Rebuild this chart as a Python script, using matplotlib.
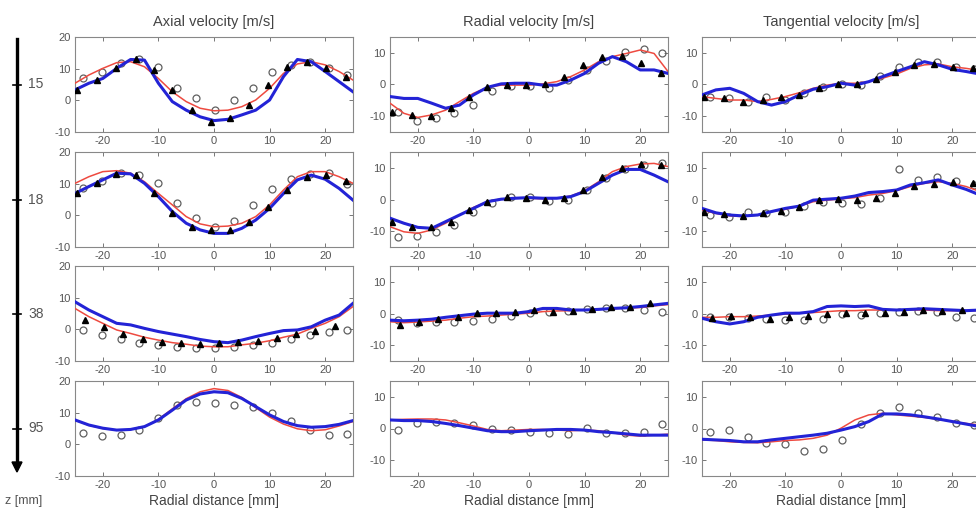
import numpy as np
import matplotlib
matplotlib.use("Agg")
import matplotlib.pyplot as plt
from matplotlib.lines import Line2D

plt.rcParams['font.family'] = ['Liberation Sans', 'DejaVu Sans']
plt.rcParams['axes.unicode_minus'] = False

# radial positions (mm)
x_line = [-25, -22.5, -20, -17.5, -15, -12.5, -10, -7.5, -5, -2.5, 0,
          2.5, 5, 7.5, 10, 12.5, 15, 17.5, 20, 22.5, 25]
circ_x = [-23.6, -20.2, -16.8, -13.4, -10.0, -6.6, -3.2, 0.2, 3.6, 7.0,
          10.4, 13.8, 17.2, 20.6, 24.0]
tri_x_a = [-24.6, -21.1, -17.6, -14.1, -10.8, -7.5, -4.0, -0.6, 2.9, 6.3,
           9.8, 13.2, 16.7, 20.2, 23.7]
tri_x_b = [-23.2, -19.8, -16.3, -12.8, -9.4, -6.0, -2.5, 0.9, 4.4, 7.9,
           11.3, 14.8, 18.2, 21.7]

z_labels = ["15", "18", "38", "95"]
col_titles = ["Axial velocity [m/s]", "Radial velocity [m/s]", "Tangential velocity [m/s]"]

# ---- axial velocity
ax15_blue = [3.3, 5.4, 6.9, 10.1, 12.9, 12.7, 5.4, -0.4, -3.1, -5.2, -6.4,
             -6.0, -4.6, -3.1, 0.1, 7.5, 12.9, 12.2, 9.1, 5.9, 2.7]
ax15_red = [5.4, 8.0, 10.1, 11.9, 12.2, 10.6, 6.9, 2.7, -0.4, -2.5, -3.3,
            -3.1, -2.0, 0.1, 3.8, 8.5, 11.5, 12.2, 11.2, 9.1, 6.4]
ax15_circ = [7.0, 9.0, 11.7, 13.0, 10.6, 3.8, 0.7, -3.0, 0.1, 3.8, 9.1, 11.0, 12.2, 10.1, 8.0]
ax15_tri = [3.3, 6.4, 10.1, 13.0, 9.6, 3.3, -3.0, -6.7, -5.6, -1.5, 4.9, 10.6, 12.2, 10.1, 7.5]

ax18_blue = [6.9, 9.1, 11.2, 13.3, 13.1, 10.1, 5.9, 1.2, -2.5, -4.6, -5.7,
             -5.7, -4.1, -1.5, 2.2, 6.9, 11.2, 12.7, 11.4, 8.5, 4.8]
ax18_red = [10.1, 12.2, 13.8, 14.1, 13.3, 10.6, 6.9, 3.3, -0.4, -2.7, -3.6,
            -3.4, -2.5, -0.4, 3.3, 8.0, 12.2, 13.8, 13.8, 12.2, 10.1]
ax18_circ = [8.5, 11.0, 13.3, 12.7, 10.1, 4.0, -0.9, -3.8, -1.7, 3.3, 8.2, 11.4, 13.0, 13.5, 9.9]
ax18_tri = [6.9, 10.3, 13.1, 12.7, 6.9, 0.8, -3.6, -4.6, -4.6, -2.0, 2.5, 8.0, 12.2, 12.7, 10.9]

ax38_blue = [8.7, 6.1, 4.0, 1.9, 1.4, 0.3, -0.7, -1.5, -2.3, -3.2, -3.9,
             -4.2, -3.4, -2.3, -1.3, -0.4, -0.2, 0.8, 2.9, 4.5, 8.2]
ax38_red = [6.6, 4.0, 1.9, -0.2, -1.3, -2.5, -3.4, -4.2, -4.7, -5.3, -5.5,
            -5.5, -4.9, -4.4, -3.6, -2.5, -1.5, 0.3, 1.9, 4.0, 7.2]
ax38_circ = [-0.2, -1.8, -3.0, -4.2, -4.9, -5.7, -5.8, -6.0, -5.5, -4.9, -4.2, -3.2, -1.8, -0.7, -0.2]
ax38_tri = [2.9, 0.8, -1.5, -3.2, -3.9, -4.2, -4.7, -4.4, -3.9, -3.6, -2.8, -1.5, -0.4, 1.1]

ax95_blue = [7.7, 6.1, 5.1, 4.5, 4.7, 5.6, 7.7, 10.8, 14.0, 15.9, 16.6,
             16.3, 14.5, 11.9, 9.3, 7.2, 5.9, 5.4, 5.6, 6.3, 7.5]
ax95_red = [7.7, 6.0, 5.0, 4.5, 4.7, 5.6, 7.9, 11.2, 14.4, 16.6, 17.6,
            17.0, 14.8, 11.6, 8.6, 6.4, 4.9, 4.3, 4.6, 5.8, 7.2]
ax95_circ = [3.5, 2.6, 2.9, 4.5, 8.2, 12.4, 13.5, 12.9, 12.4, 11.9, 10.0, 7.5, 4.5, 2.9, 3.3]

# ---- radial velocity
rad15_blue = [-3.8, -4.4, -4.4, -5.9, -7.5, -6.5, -3.3, -0.9, 0.2, 0.4, 0.4,
              -0.2, -0.2, 1.4, 3.5, 6.7, 8.8, 7.2, 4.6, 4.6, 3.5]
rad15_red = [-5.9, -9.1, -10.4, -9.6, -8.1, -5.4, -2.8, -0.9, -0.2, -0.2, -0.2,
             0.2, 0.9, 2.5, 4.6, 7.2, 8.8, 9.8, 10.9, 9.8, 4.1]
rad15_circ = [-8.6, -11.4, -10.7, -9.1, -6.5, -2.2, -0.5, -0.5, -1.2, 1.4, 4.6, 7.5, 10.4, 11.1, 9.8]
rad15_tri = [-8.6, -9.6, -9.9, -7.5, -3.8, -0.9, -0.2, -0.2, 0.2, 2.5, 6.2, 8.8, 9.0, 6.7, 3.5]

rad18_blue = [-5.9, -7.5, -8.8, -9.1, -7.0, -4.9, -2.8, -0.7, 0.1, 0.4, 0.6,
              0.4, 0.4, 0.9, 2.5, 5.1, 7.7, 9.5, 9.5, 7.7, 5.6]
rad18_red = [-8.6, -10.2, -10.7, -9.6, -7.5, -4.9, -2.5, -0.7, 0.2, 0.4, 0.4,
             0.2, 0.4, 1.1, 2.8, 5.6, 8.8, 10.4, 11.2, 11.4, 10.4]
rad18_circ = [-11.7, -11.5, -10.2, -8.1, -3.8, -1.2, 0.9, 0.9, -0.4, -0.2, 3.0, 6.7, 9.5, 10.9, 11.4]
rad18_tri = [-7.0, -8.6, -8.8, -7.0, -3.3, -0.7, 0.9, 0.6, -0.2, 0.4, 3.0, 7.2, 9.8, 11.2, 10.9]

rad38_blue = [-2.1, -2.3, -2.1, -1.8, -1.2, -0.7, -0.2, 0.1, 0.1, 0.1, 0.6,
              1.6, 1.6, 1.1, 1.1, 1.3, 1.6, 1.8, 2.2, 2.7, 3.2]
rad38_red = [-2.6, -2.9, -2.7, -2.4, -2.1, -1.5, -1.0, -0.8, -0.5, -0.2, 0.1,
             0.6, 0.8, 0.9, 1.1, 1.3, 1.5, 1.7, 1.9, 2.4, 2.8]
rad38_circ = [-2.1, -2.9, -2.6, -2.6, -2.3, -1.8, -0.8, 0.1, 0.6, 0.9, 1.3, 1.6, 1.6, 1.1, 0.6]
rad38_tri = [-3.6, -2.6, -1.8, -1.0, 0.1, 0.3, 0.6, 1.1, 0.6, 0.9, 1.3, 1.9, 2.2, 3.2]

rad95_blue = [2.7, 2.5, 2.5, 2.2, 1.6, 0.9, 0.1, -0.7, -1.0, -1.0, -0.7,
              -0.5, -0.3, -0.3, -0.5, -1.0, -1.3, -1.7, -2.1, -2.1, -2.1]
rad95_red = [2.7, 2.9, 3.0, 3.0, 2.7, 1.8, 0.8, -0.3, -0.7, -0.5, -0.3,
             -0.3, -0.5, -0.7, -0.5, -0.7, -1.3, -2.1, -2.4, -2.1, -1.8]
rad95_circ = [-0.5, 1.6, 2.2, 1.8, 1.1, -0.3, -0.5, -1.0, -1.5, -1.7, 0.1, -1.3, -1.5, -1.0, 1.4]

# ---- tangential velocity
tan15_blue = [-3.3, -1.7, -1.2, -2.8, -5.4, -6.5, -5.4, -3.3, -1.5, -0.7, 0.4,
              -0.2, 0.9, 2.5, 4.1, 5.6, 7.2, 6.2, 4.8, 4.1, 3.3]
tan15_red = [-3.8, -4.4, -4.9, -4.9, -5.4, -4.7, -3.8, -2.6, -1.2, -0.2, 0.4,
             0.4, 0.9, 2.0, 3.3, 5.1, 6.2, 6.5, 5.6, 5.1, 4.4]
tan15_circ = [-3.8, -4.4, -5.4, -3.8, -4.9, -2.6, -0.9, 0.2, -0.2, 2.7, 5.6, 7.2, 7.2, 5.5, 4.8]
tan15_tri = [-3.8, -4.4, -5.4, -4.9, -3.8, -3.3, -1.2, 0.2, 0.0, 1.8, 4.0, 6.0, 6.5, 5.6, 5.1]

tan18_blue = [-2.8, -4.2, -4.9, -5.2, -4.9, -3.8, -2.8, -2.1, -0.2, 0.1, 0.4,
              1.1, 2.2, 2.5, 3.0, 4.6, 5.3, 6.2, 4.6, 3.2, 1.4]
tan18_red = [-3.3, -4.4, -5.2, -5.4, -4.9, -3.8, -3.1, -2.1, -0.7, -0.2, 0.2,
             0.6, 1.4, 1.9, 2.8, 4.1, 5.1, 5.6, 5.1, 4.1, 2.5]
tan18_circ = [-4.9, -5.6, -3.8, -4.4, -3.8, -2.1, -0.7, -1.2, -1.4, 0.4, 9.5, 6.2, 7.0, 5.9, 4.6]
tan18_tri = [-3.8, -4.6, -5.2, -4.4, -3.6, -2.3, -0.2, 0.1, -0.2, 0.4, 2.2, 4.3, 4.9, 5.6, 5.1]

tan38_blue = [-1.5, -2.6, -3.3, -2.6, -1.2, -0.5, 0.1, 0.1, 0.6, 2.2, 2.4,
              2.2, 2.4, 1.3, 1.1, 1.3, 1.5, 1.3, 1.1, 0.9, 1.1]
tan38_red = [-1.2, -1.2, -1.0, -1.0, -0.8, -0.5, -0.2, 0.1, 0.3, 0.6, 0.9,
             0.9, 1.1, 1.1, 1.1, 1.1, 1.1, 0.9, 0.9, 0.9, 0.9]
tan38_circ = [-1.0, -1.2, -1.5, -1.8, -2.1, -2.1, -1.8, -0.2, -0.5, 0.3, 0.6, 0.9, 0.6, -1.0, -1.5]
tan38_tri = [-1.5, -0.8, -1.2, -1.8, -1.2, -0.8, -0.2, 0.1, 0.1, 0.3, 0.6, 1.1, 0.9, 1.1]

tan95_blue = [-3.4, -3.6, -3.8, -4.2, -4.2, -3.6, -3.1, -2.6, -2.1, -1.5, -0.5,
              0.6, 2.2, 4.6, 4.6, 4.3, 3.7, 3.0, 2.2, 1.4, 0.6]
tan95_red = [-3.6, -3.8, -4.2, -4.4, -4.5, -4.2, -3.8, -3.6, -3.1, -2.1, 0.1,
             2.7, 4.3, 4.8, 4.3, 3.9, 3.5, 2.9, 2.2, 1.6, 1.1]
tan95_circ = [-1.0, -0.5, -2.6, -4.5, -4.9, -7.0, -6.6, -3.6, 1.5, 5.0, 6.9, 4.8, 3.5, 1.6, 1.1]

blue_rows = [[ax15_blue, rad15_blue, tan15_blue], [ax18_blue, rad18_blue, tan18_blue],
             [ax38_blue, rad38_blue, tan38_blue], [ax95_blue, rad95_blue, tan95_blue]]
red_rows = [[ax15_red, rad15_red, tan15_red], [ax18_red, rad18_red, tan18_red],
            [ax38_red, rad38_red, tan38_red], [ax95_red, rad95_red, tan95_red]]
circ_rows = [[ax15_circ, rad15_circ, tan15_circ], [ax18_circ, rad18_circ, tan18_circ],
             [ax38_circ, rad38_circ, tan38_circ], [ax95_circ, rad95_circ, tan95_circ]]
tri_rows = [[ax15_tri, rad15_tri, tan15_tri], [ax18_tri, rad18_tri, tan18_tri],
            [ax38_tri, rad38_tri, tan38_tri], None]
tri_x_rows = [tri_x_a, tri_x_a, tri_x_b, None]

W, H = 976, 517
fig = plt.figure(figsize=(W / 100, H / 100), dpi=100)

col_left = [75, 390, 702]
col_w = 278
row_top = [37, 152, 266, 381]
row_h = 95

grey = "#555555"
for r in range(4):
    for c in range(3):
        ax = fig.add_axes([col_left[c] / W, 1 - (row_top[r] + row_h) / H, col_w / W, row_h / H])
        ax.plot(circ_x, circ_rows[r][c], "o", mfc="none", mec="#606060", ms=5, mew=0.9, zorder=2)
        ax.plot(x_line, red_rows[r][c], color="#ee4a40", lw=1.1, zorder=3)
        ax.plot(x_line, blue_rows[r][c], color="#2323d6", lw=2.2, zorder=4)
        if tri_rows[r] is not None:
            ax.plot(tri_x_rows[r], tri_rows[r][c], "^", color="black", ms=4, zorder=5)
        ax.set_xlim(-25, 25)
        ax.set_xticks([-20, -10, 0, 10, 20])
        if c == 0:
            ax.set_ylim(-10, 20)
            ax.set_yticks([-10, 0, 10, 20])
        else:
            ax.set_ylim(-15, 15)
            ax.set_yticks([-10, 0, 10])
        ax.tick_params(direction="in", length=3, width=0.7, labelsize=8,
                       colors="#777777", labelcolor=grey, top=True, right=True, pad=3)
        for s in ax.spines.values():
            s.set_color("#888888")
            s.set_linewidth(0.8)
        if r == 0:
            ax.set_title(col_titles[c], fontsize=10.5, color="#444444", pad=8)
        if r == 3:
            ax.set_xlabel("Radial distance [mm]", fontsize=10, color="#444444", labelpad=3)

# z-axis arrow on the left
fig.add_artist(Line2D([17 / W, 17 / W], [1 - 39 / H, 1 - 462 / H], color="black", lw=2.4))
fig.add_artist(plt.Polygon([[12 / W, 1 - 462 / H], [22 / W, 1 - 462 / H], [17 / W, 1 - 472 / H]],
                           closed=True, color="black", transform=fig.transFigure))
for r in range(4):
    yc = 1 - (row_top[r] + row_h / 2) / H
    fig.add_artist(Line2D([13 / W, 21 / W], [yc, yc], color="black", lw=1.2))
    fig.text(28 / W, yc, z_labels[r], fontsize=10, color=grey, va="center", ha="left")
fig.text(5 / W, 1 - 501 / H, "z [mm]", fontsize=9, color=grey, va="center", ha="left")

plt.savefig("out.png", dpi=100)
